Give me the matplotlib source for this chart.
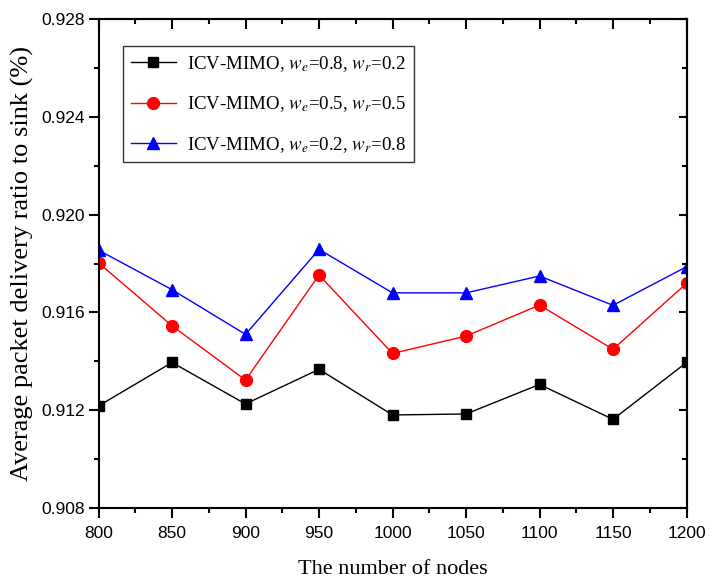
import numpy as np
import matplotlib
matplotlib.use("Agg")
import matplotlib.pyplot as plt
from matplotlib.ticker import MultipleLocator, FormatStrFormatter

# data
nodes = [800, 850, 900, 950, 1000, 1050, 1100, 1150, 1200]
pdr_08_02 = [0.91217, 0.91395, 0.91225, 0.91367, 0.91180, 0.91184, 0.91305, 0.91162, 0.91395]
pdr_05_05 = [0.91803, 0.91545, 0.91323, 0.91753, 0.91432, 0.91503, 0.91630, 0.91449, 0.91719]
pdr_02_08 = [0.91855, 0.91693, 0.91510, 0.91858, 0.91680, 0.91680, 0.91749, 0.91629, 0.91787]

labels = [r"ICV-MIMO, $w_e$=0.8, $w_r$=0.2",
          r"ICV-MIMO, $w_e$=0.5, $w_r$=0.5",
          r"ICV-MIMO, $w_e$=0.2, $w_r$=0.8"]

plt.rcParams['mathtext.fontset'] = 'stix'
serif = ['Liberation Serif', 'DejaVu Serif']
sans = ['Liberation Sans', 'DejaVu Sans']

fig = plt.figure(figsize=(7.14, 5.87), dpi=100)
ax = fig.add_axes([0.138, 0.135, 0.8235, 0.832])

ax.plot(nodes, pdr_08_02, color='black', lw=1.0, marker='s', ms=7.5, label=labels[0])
ax.plot(nodes, pdr_05_05, color='red', lw=1.0, marker='o', ms=8.5, label=labels[1])
ax.plot(nodes, pdr_02_08, color='blue', lw=1.0, marker='^', ms=9, label=labels[2])

ax.set_xlim(800, 1200)
ax.set_ylim(0.908, 0.928)
ax.xaxis.set_major_locator(MultipleLocator(50))
ax.xaxis.set_minor_locator(MultipleLocator(25))
ax.yaxis.set_major_locator(MultipleLocator(0.004))
ax.yaxis.set_minor_locator(MultipleLocator(0.002))
ax.yaxis.set_major_formatter(FormatStrFormatter('%.3f'))

for s in ax.spines.values():
    s.set_linewidth(1.5)

ax.tick_params(which='major', direction='out', length=7, width=1.5,
               labelsize=12.5, pad=3)
ax.tick_params(axis='x', which='major', pad=6)
ax.tick_params(which='minor', direction='out', length=3.5, width=1.5)
for lab in ax.get_xticklabels() + ax.get_yticklabels():
    lab.set_family(sans)

# inward ticks on the top and right frame
top = ax.secondary_xaxis('top')
top.xaxis.set_major_locator(MultipleLocator(50))
top.xaxis.set_minor_locator(MultipleLocator(25))
top.tick_params(which='major', direction='in', length=7, width=1.5, labeltop=False)
top.tick_params(which='minor', direction='in', length=3.5, width=1.5)
top.spines['top'].set_linewidth(1.5)

right = ax.secondary_yaxis('right')
right.yaxis.set_major_locator(MultipleLocator(0.004))
right.yaxis.set_minor_locator(MultipleLocator(0.002))
right.tick_params(which='major', direction='in', length=6, width=1.5, labelright=False)
right.tick_params(which='minor', direction='in', length=3.5, width=1.5)
right.spines['right'].set_linewidth(1.5)

ax.set_xlabel("The number of nodes", family=serif, fontsize=16, labelpad=14)
ax.set_ylabel("Average packet delivery ratio to sink (%)", family=serif, fontsize=19, labelpad=5)

leg = ax.legend(loc='upper left', bbox_to_anchor=(0.042, 0.945), borderaxespad=0,
                prop={'family': serif, 'size': 13.6}, frameon=True, fancybox=False,
                edgecolor='black', handlelength=2.4, handletextpad=0.6,
                borderpad=0.4, labelspacing=1.1)
leg.get_frame().set_linewidth(1.0)

fig.savefig("out.png", dpi=100)
